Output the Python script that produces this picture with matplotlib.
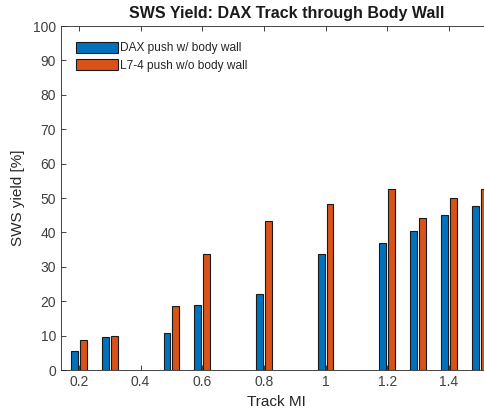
import numpy as np
import matplotlib.pyplot as plt

plt.rcParams['font.family'] = ['Liberation Sans', 'DejaVu Sans']

# Track MI settings and SWS yield for each configuration
track_mi = [0.2, 0.3, 0.5, 0.6, 0.8, 1.0, 1.2, 1.3, 1.4, 1.5]
dax_push = [5.6, 9.6, 10.8, 19.0, 22.1, 33.6, 36.8, 40.3, 45.0, 47.6]
l74_push = [8.7, 9.9, 18.7, 33.8, 43.4, 48.2, 52.5, 44.1, 49.9, 52.5]

x_ticks = [0.2, 0.4, 0.6, 0.8, 1.0, 1.2, 1.4]
x_tick_labels = ['0.2', '0.4', '0.6', '0.8', '1', '1.2', '1.4']
y_ticks = list(range(0, 101, 10))

blue = '#0072BD'
orange = '#D95319'

# axes run a little past the right edge of the figure
fig = plt.figure(figsize=(4.85, 4.13), dpi=100)
ax = fig.add_axes([0.1258, 0.1041, 0.932, 0.8329])

x = np.array(track_mi)
offset = 0.0143
width = 0.0225
ax.bar(x - offset, dax_push, width, color=blue, edgecolor='#1a1a1a',
       linewidth=0.8, label='DAX push w/ body wall', zorder=2)
ax.bar(x + offset, l74_push, width, color=orange, edgecolor='#1a1a1a',
       linewidth=0.8, label='L7-4 push w/o body wall', zorder=2)

ax.set_xlim(0.142, 1.608)
ax.set_ylim(0, 100)
ax.set_xticks(x_ticks)
ax.set_xticklabels(x_tick_labels)
ax.set_yticks(y_ticks)
ax.tick_params(direction='in', top=True, right=True, length=3.5,
               width=0.6, color='#262626', labelcolor='#404040', labelsize=10)
for side in ['left', 'bottom', 'top', 'right']:
    ax.spines[side].set_color('#262626')
    ax.spines[side].set_linewidth(0.6)

ax.set_xlabel('Track MI', fontsize=11, color='#262626')
ax.xaxis.set_label_coords(0.476, -0.074)
ax.set_ylabel('SWS yield [%]', fontsize=11, color='#262626', labelpad=6)
ax.set_title('SWS Yield: DAX Track through Body Wall', fontsize=11.5,
             fontweight='bold', color='#1a1a1a', pad=6)

leg = ax.legend(loc='upper left', bbox_to_anchor=(0.018, 0.975), frameon=False,
                fontsize=8.6, handlelength=3.45, handleheight=1.05,
                handletextpad=0.2, labelspacing=0.4, borderaxespad=0.2)
for t in leg.get_texts():
    t.set_color('#262626')

fig.savefig('out.png', dpi=100)
